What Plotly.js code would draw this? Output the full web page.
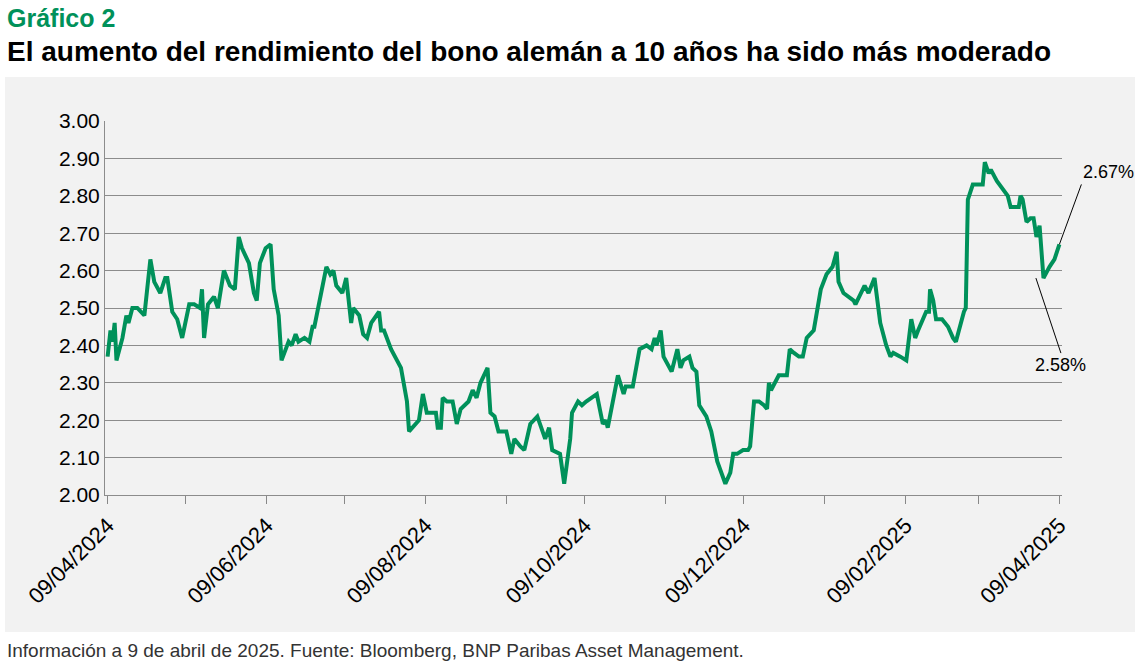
<!DOCTYPE html>
<html><head><meta charset="utf-8">
<script src="https://cdn.plot.ly/plotly-3.0.1.min.js"></script>
<style>body{margin:0;background:#fff}#bg{position:absolute;left:5px;top:77px;width:1130px;height:555px;background:#f2f2f2}#c{position:absolute;left:0;top:0}</style></head>
<body><div id="bg"></div><div id="c" style="width:1135px;height:667px"></div>
<script>
const startDate = "2024-04-09";
const days = [0,1.1,1.9,2.7,3.4,5.7,7.2,8.0,9.5,11.4,14.1,16.4,17.9,20.2,22.1,22.9,24.8,26.7,28.6,31.3,33.2,35.5,36.2,37.0,38.5,40.8,42.3,44.6,46.9,48.8,50.3,51.5,54.2,56.1,57.2,58.4,60.6,62.5,63.7,65.6,66.7,68.7,69.4,70.6,72.1,73.2,75.5,77.4,78.6,79.3,80.9,83.9,85.4,86.6,87.7,90.0,91.5,93.4,94.2,96.5,98.0,99.5,101.1,104.1,104.9,106.0,108.7,112.5,114.8,115.6,119.4,120.9,122.4,125.9,126.6,127.8,128.5,130.1,132.3,133.9,135.4,138.4,140.0,141.5,143.0,145.7,146.8,148.4,149.9,152.9,154.8,156.0,158.3,159.8,162.1,164.8,167.8,169.3,170.5,173.5,175.1,177.4,178.1,180.4,181.9,183.5,187.6,189.9,191.1,191.8,195.7,197.9,198.7,201.4,204.0,206.7,208.6,209.8,210.5,212.1,213.2,216.3,218.5,219.7,220.8,223.1,224.3,225.8,226.9,229.6,231.5,233.8,236.9,238.8,239.9,241.4,243.7,245.6,246.4,247.9,249.8,251.7,252.9,253.6,254.4,257.4,260.5,261.6,263.2,265.1,266.6,268.1,270.8,271.9,273.5,275.7,278.0,279.6,280.3,282.2,286.1,286.8,290.3,291.8,294.1,296.3,298.6,300.2,301.3,304.0,306.3,308.2,309.7,310.8,313.9,315.0,315.4,316.6,317.7,320.0,322.3,324.2,325.3,328.4,329.1,329.9,331.8,335.6,336.4,337.9,338.7,341.0,342.9,344.0,345.2,346.3,347.8,349.4,350.1,350.9,352.4,353.9,355.1,356.2,357.4,358.9,361.2,363.1,365];
const yields = [2.37,2.44,2.41,2.46,2.36,2.42,2.48,2.46,2.50,2.50,2.48,2.63,2.57,2.54,2.58,2.58,2.49,2.47,2.42,2.51,2.51,2.50,2.55,2.42,2.51,2.53,2.50,2.60,2.56,2.55,2.69,2.66,2.62,2.54,2.52,2.62,2.66,2.67,2.55,2.48,2.36,2.40,2.41,2.40,2.43,2.41,2.42,2.41,2.45,2.45,2.51,2.61,2.59,2.60,2.56,2.54,2.58,2.46,2.50,2.48,2.43,2.42,2.46,2.49,2.44,2.44,2.39,2.34,2.25,2.17,2.20,2.27,2.22,2.22,2.18,2.18,2.26,2.25,2.25,2.19,2.23,2.25,2.28,2.26,2.30,2.34,2.22,2.21,2.17,2.17,2.11,2.15,2.13,2.12,2.19,2.21,2.15,2.18,2.12,2.11,2.03,2.15,2.22,2.25,2.24,2.25,2.27,2.19,2.20,2.18,2.32,2.27,2.29,2.29,2.39,2.40,2.39,2.42,2.40,2.44,2.37,2.33,2.39,2.34,2.36,2.37,2.34,2.33,2.24,2.21,2.17,2.09,2.03,2.06,2.11,2.11,2.12,2.12,2.13,2.25,2.25,2.24,2.23,2.30,2.28,2.32,2.32,2.39,2.38,2.37,2.37,2.42,2.44,2.48,2.55,2.59,2.61,2.65,2.57,2.54,2.52,2.51,2.56,2.54,2.58,2.46,2.40,2.37,2.38,2.37,2.36,2.47,2.42,2.44,2.49,2.49,2.55,2.52,2.47,2.47,2.45,2.42,2.41,2.49,2.50,2.79,2.83,2.83,2.89,2.86,2.87,2.84,2.82,2.81,2.80,2.77,2.77,2.77,2.80,2.79,2.73,2.74,2.74,2.69,2.72,2.58,2.61,2.63,2.67];
const tickDates = ["2024-04-09","2024-05-09","2024-06-09","2024-07-09","2024-08-09","2024-09-09","2024-10-09","2024-11-09","2024-12-09","2025-01-09","2025-02-09","2025-03-09","2025-04-09"];
const tickLabels = ["09/04/2024","","09/06/2024","","09/08/2024","","09/10/2024","","09/12/2024","","09/02/2025","","09/04/2025"];
const yTicks = [2.0,2.1,2.2,2.3,2.4,2.5,2.6,2.7,2.8,2.9,3.0];
const lowLabel = "2.58%", highLabel = "2.67%", lowDate = "2025-03-31", lowVal = 2.58;

const n = Math.min(days.length, yields.length);
const base = new Date(startDate + "T00:00:00Z").getTime();
const xs = days.slice(0,n).map(d => new Date(base + d*86400000).toISOString().slice(0,16).replace("T"," "));
const ys = yields.slice(0,n);
const f = "Liberation Sans, Arial, sans-serif";

Plotly.newPlot("c", [{
  x: xs, y: ys, type: "scatter", mode: "lines",
  line: {color: "#00915A", width: 4}, hoverinfo: "skip"
}], {
  width: 1135, height: 667,
  margin: {l: 105, r: 73, t: 121, b: 172},
  paper_bgcolor: "rgba(0,0,0,0)", plot_bgcolor: "rgba(0,0,0,0)",
  showlegend: false,
  xaxis: {
    type: "date", range: ["2024-04-08", "2025-04-10"],
    tickvals: tickDates, ticktext: tickLabels, tickangle: -45,
    ticks: "outside", ticklen: 8, tickcolor: "#888", showgrid: false,
    showline: true, linecolor: "#8c8c8c", zeroline: false,
    tickfont: {family: f, size: 22, color: "#000"}
  },
  yaxis: {
    range: [2.0, 3.0], tickvals: yTicks, ticktext: yTicks.map(v => v.toFixed(2)),
    showgrid: true, gridcolor: "#8c8c8c", gridwidth: 1,
    showline: true, linecolor: "#8c8c8c", zeroline: false, ticks: "",
    tickfont: {family: f, size: 21, color: "#000"}
  },
  annotations: [
    {xref: "paper", yref: "paper", x: -0.105, y: 1.275, xanchor: "left", yanchor: "middle", showarrow: false, text: "<b>Gráfico 2</b>", font: {family: f, size: 25, color: "#00915A"}},
    {xref: "paper", yref: "paper", x: -0.105, y: 1.185, xanchor: "left", yanchor: "middle", showarrow: false, text: "<b>El aumento del rendimiento del bono alemán a 10 años ha sido más moderado</b>", font: {family: f, size: 28, color: "#000"}},
    {xref: "paper", yref: "paper", x: -0.105, y: -0.415, xanchor: "left", yanchor: "middle", showarrow: false, text: "Información a 9 de abril de 2025. Fuente: Bloomberg, BNP Paribas Asset Management.", font: {family: f, size: 19, color: "#333"}},
    {x: xs[n-1], y: ys[n-1], text: highLabel, showarrow: true, arrowhead: 0, arrowwidth: 1, arrowcolor: "#000", ax: 22, ay: -60, xanchor: "left", yanchor: "bottom", font: {family: f, size: 18, color: "#000"}},
    {x: lowDate, y: lowVal, text: lowLabel, showarrow: true, arrowhead: 0, arrowwidth: 1, arrowcolor: "#000", ax: 25, ay: 75, yanchor: "top", font: {family: f, size: 18, color: "#000"}}
  ]
}, {displayModeBar: false});
</script></body></html>
